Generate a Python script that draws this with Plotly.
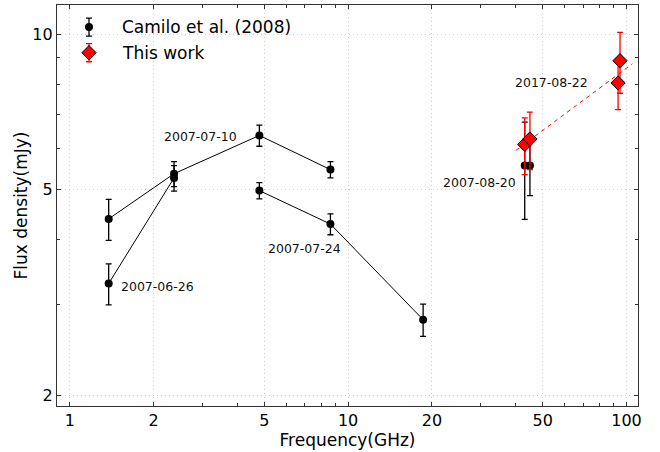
import numpy as np
import plotly.graph_objects as go

# ---- data ----
f_0626 = [1.38, 2.37]
s_0626 = [3.29, 5.27]
e_0626 = [0.30, 0.30]

f_0710 = [1.38, 2.37, 4.8, 8.64]
s_0710 = [4.39, 5.37, 6.37, 5.47]
e_0710 = [0.40, 0.30, 0.30, 0.20]

f_0724 = [4.8, 8.64, 18.6]
s_0724 = [4.98, 4.29, 2.80]
e_0724 = [0.18, 0.20, 0.20]

f_0820 = [43.1, 45.0]
s_0820 = [5.57, 5.57]
e_0820 = [1.19, 0.70]

f_this = [43.1, 45.0, 93.3, 94.8]
s_this = [6.12, 6.27, 8.05, 8.89]
e_this = [0.77, 0.80, 0.90, 1.20]

fit_range = [40.0, 105.0]

labels = [
    ("2007-06-26", 1.38, 3.29, "left"),
    ("2007-07-10", 4.8, 6.37, "right"),
    ("2007-07-24", 8.64, 4.29, "right"),
    ("2007-08-20", 43.1, 5.57, "right"),
    ("2017-08-22", 93.3, 8.05, "right"),
]

x_ticks = [1, 2, 5, 10, 20, 50, 100]
x_minor = [3, 4, 6, 7, 8, 9, 30, 40, 60, 70, 80, 90]
y_ticks = [2, 5, 10]
y_minor = [3, 4, 6, 7, 8, 9]

legend_names = ["Camilo et al. (2008)", "This work"]

FONT = "DejaVu Sans"
fig = go.Figure()

# connecting lines (no legend)
for f, s in [(f_0626, s_0626), (f_0710, s_0710), (f_0724, s_0724)]:
    fig.add_trace(go.Scatter(x=f, y=s, mode="lines", line=dict(color="black", width=1),
                             showlegend=False, hoverinfo="skip"))

# black points with error bars
cam_f = f_0626 + f_0710 + f_0724 + f_0820
cam_s = s_0626 + s_0710 + s_0724 + s_0820
cam_e = e_0626 + e_0710 + e_0724 + e_0820
black_marker = dict(color="black", size=8, symbol="circle")
black_err = dict(color="black", thickness=1.3, width=3)
fig.add_trace(go.Scatter(
    x=cam_f, y=cam_s, mode="markers", name=legend_names[0], showlegend=False,
    marker=black_marker, error_y=dict(type="data", array=cam_e, **black_err),
))

# power-law fit to this work
lf = np.log10(f_this); ls = np.log10(s_this)
w = 1.0 / (np.array(e_this) / (np.array(s_this) * np.log(10))) ** 2
p = np.polyfit(lf, ls, 1, w=np.sqrt(w))
fx = np.array(fit_range)
fig.add_trace(go.Scatter(x=fx, y=10 ** np.polyval(p, np.log10(fx)), mode="lines",
                         line=dict(color="red", width=1, dash="4px,4px"),
                         showlegend=False, hoverinfo="skip"))

red_marker = dict(color="red", size=11, symbol="diamond", line=dict(color="black", width=1))
red_err = dict(color="red", thickness=1.3, width=3)
fig.add_trace(go.Scatter(
    x=f_this, y=s_this, mode="markers", name=legend_names[1], showlegend=False,
    marker=red_marker, error_y=dict(type="data", array=e_this, **red_err),
))

# ---- legend drawn on an overlay axis (so the error bars appear in it) ----
leg_x = 0.0551
leg_y = [0.945, 0.881]
leg_err = 0.0225
for name, yy, mk, er in [(legend_names[0], leg_y[0], black_marker, black_err),
                         (legend_names[1], leg_y[1], red_marker, red_err)]:
    fig.add_trace(go.Scatter(x=[leg_x], y=[yy], mode="markers", xaxis="x2", yaxis="y2",
                             marker=mk, error_y=dict(type="data", array=[leg_err], **er),
                             showlegend=False, hoverinfo="skip"))
    fig.add_annotation(x=0.1084, y=yy, xref="paper", yref="paper", text=name, showarrow=False,
                       xanchor="left", yanchor="middle",
                       font=dict(family=FONT, size=17, color="black"))

ann_shift = {
    "2007-06-26": (10, -3),
    "2007-07-10": (-20, -1),
    "2007-07-24": (13, -24),
    "2007-08-20": (-7, -17),
    "2017-08-22": (-28, 0),
}
for txt, x, y, side in labels:
    dx, dy = ann_shift[txt]
    fig.add_annotation(x=np.log10(x), y=np.log10(y), xref="x", yref="y", text=txt, showarrow=False,
                       xanchor="left" if side == "left" else "right", yanchor="middle",
                       xshift=dx, yshift=dy, font=dict(family=FONT, size=12.5, color="#111"))

axis_common = dict(
    type="log", showline=True, linecolor="#333", linewidth=1.2, mirror="ticks",
    ticks="inside", ticklen=4, tickwidth=1, tickcolor="#333",
    showgrid=True, gridcolor="#cfcfcf", griddash="1px,3px", gridwidth=1,
    zeroline=False, tickfont=dict(family=FONT, size=16, color="black"),
)
xaxis = dict(axis_common, range=[np.log10(0.9), np.log10(110)],
             tickvals=x_ticks, ticktext=[str(v) for v in x_ticks],
             minor=dict(ticks="inside", ticklen=3, tickcolor="#333", showgrid=False, tickvals=x_minor),
             title=dict(text="Frequency(GHz)", font=dict(family=FONT, size=17, color="black"), standoff=4))
yaxis = dict(axis_common, range=[np.log10(1.905), np.log10(11.4)],
             tickvals=y_ticks, ticktext=[str(v) for v in y_ticks],
             minor=dict(ticks="inside", ticklen=3, tickcolor="#333", showgrid=False, tickvals=y_minor),
             title=dict(text="Flux density(mJy)", font=dict(family=FONT, size=17, color="black"), standoff=0))

fig.update_layout(
    width=660, height=452, margin=dict(l=57, r=22, t=5, b=46),
    plot_bgcolor="white", paper_bgcolor="white",
    xaxis=xaxis, yaxis=yaxis,
    xaxis2=dict(overlaying="x", range=[0, 1], visible=False, fixedrange=True),
    yaxis2=dict(overlaying="y", range=[0, 1], visible=False, fixedrange=True),
    showlegend=False,
    font=dict(family=FONT),
)
fig.write_html("out.html")
